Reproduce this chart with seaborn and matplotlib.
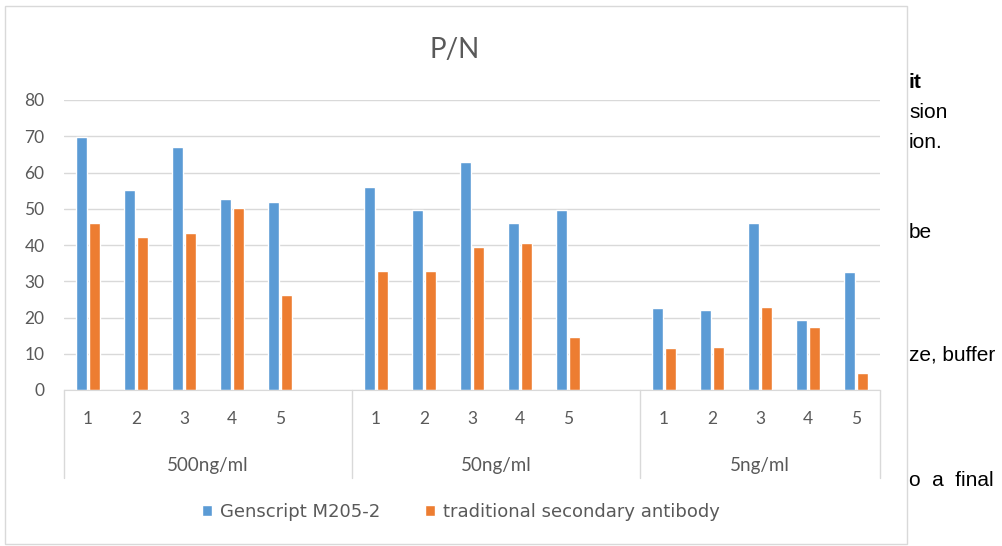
import numpy as np
import pandas as pd
import seaborn as sns
import matplotlib.pyplot as plt
import matplotlib.transforms as mtransforms
from matplotlib.patches import Rectangle

# DATA
groups = ["500ng/ml", "50ng/ml", "5ng/ml"]
samples = ["1", "2", "3", "4", "5"]
series = ["Genscript M205-2", "traditional secondary antibody"]
genscript = [69.7, 55.2, 67.1, 52.7, 51.9,
             55.9, 49.6, 62.8, 46.2, 49.6,
             22.5, 22.0, 46.2, 19.3, 32.5]
traditional = [46.0, 42.1, 43.2, 50.3, 26.3,
               32.8, 32.8, 39.5, 40.6, 14.5,
               11.5, 12.0, 23.0, 17.5, 4.6]
yticks = [0, 10, 20, 30, 40, 50, 60, 70, 80]
colors = ["#5B9BD5", "#ED7D31"]

W, H = 1002, 546

#TABLE
rows = []
for gi, g in enumerate(groups):
    for si, s in enumerate(samples):
        k = gi * len(samples) + si
        rows.append((f"{g} {s}", series[0], genscript[k]))
        rows.append((f"{g} {s}", series[1], traditional[k]))
df = pd.DataFrame(rows, columns=["cat", "series", "pn"])

# excel leaves an empty slot after the first two groups
order = []
spans = []
for gi, g in enumerate(groups):
    start = len(order)
    order += [f"{g} {s}" for s in samples]
    if gi < len(groups) - 1:
        order.append(f"blank {gi}")
    spans.append((start - 0.5, len(order) - 0.5))

#PLOT
sns.set_style("white")
plt.rcParams["font.family"] = ["Lato", "DejaVu Sans"]

fig = plt.figure(figsize=(W / 100, H / 100), dpi=100)
ax = fig.add_axes([64 / W, 1 - 390 / H, (880 - 64) / W, 290 / H])

sns.barplot(data=df, x="cat", y="pn", hue="series", order=order,
            hue_order=series, palette=colors, saturation=1,
            width=0.52, gap=0.1, errorbar=None, ax=ax)

ax.set_xlim(-0.5, len(order) - 0.5)
ax.set_ylim(0, 80)
ax.set_yticks(yticks)
tick_pos = [i for i, c in enumerate(order) if not c.startswith("blank")]
ax.set_xticks(tick_pos)
ax.set_xticklabels(samples * len(groups))
ax.set_xlabel("")
ax.set_ylabel("")
ax.tick_params(axis="x", length=0, pad=15, labelsize=12.5, labelcolor="#595959")
ax.tick_params(axis="y", length=0, pad=14, labelsize=12.5, labelcolor="#595959")

ax.yaxis.grid(True, color="#D9D9D9", lw=1)
ax.set_axisbelow(True)
for side in ["top", "right", "left"]:
    ax.spines[side].set_visible(False)
ax.spines["bottom"].set_color("#D9D9D9")

# multi-level category axis
trans = mtransforms.blended_transform_factory(ax.transData, ax.transAxes)
bounds = sorted(set([b for sp in spans for b in sp]))
for xb in bounds:
    ax.plot([xb, xb], [0, -88 / 290], transform=trans, clip_on=False,
            color="#D9D9D9", lw=1)
for g, (a, b) in zip(groups, spans):
    ax.text((a + b) / 2, -75 / 290, g, transform=trans, ha="center", va="center",
            fontsize=13.5, color="#595959")

fig.text(455 / W, 1 - 50 / H, "P/N", ha="center", va="center",
         fontsize=20, color="#595959")

handles, labels = ax.get_legend_handles_labels()
ax.get_legend().remove()
fig.legend(handles, labels, loc="center", bbox_to_anchor=(461 / W, 1 - 512 / H),
           ncol=2, frameon=False, handlelength=0.55, handleheight=0.55,
           handletextpad=0.45, columnspacing=2.5,
           prop={"family": "DejaVu Sans", "size": 13},
           labelcolor="#595959")

# chart frame
fig.patches.append(Rectangle((5 / W, 1 - 544 / H), 902 / W, 538 / H,
                             transform=fig.transFigure, fill=False,
                             edgecolor="#D9D9D9", lw=1))

# bits of the page text around the chart
side_text = [("it", 83, "bold"), ("sion", 113, "normal"), ("ion.", 142, "normal"),
             ("be", 233, "normal"), ("ze, buffer", 355, "normal"),
             ("o  a  final", 480, "normal")]
for t, y, w in side_text:
    fig.text(909 / W, 1 - y / H, t, ha="left", va="center", fontsize=15,
             weight=w, family="Liberation Sans", color="black")

fig.savefig("out.png", dpi=100)
